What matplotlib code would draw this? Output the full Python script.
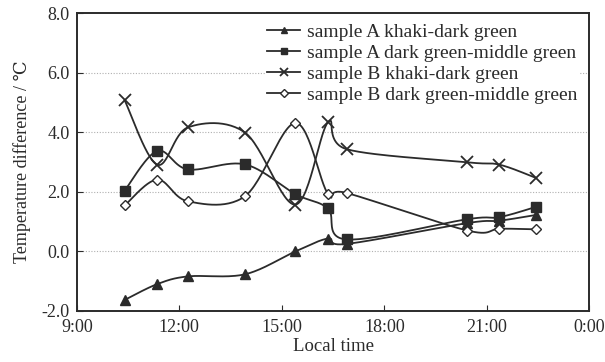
#!/usr/bin/env python3

import numpy as np
import matplotlib
matplotlib.use("Agg")
import matplotlib.pyplot as plt

# ----------- Data -----------
times = [10.40, 11.35, 12.25, 13.92, 15.40, 16.35, 16.90, 20.43, 21.37, 22.43]   # local time, hours

a_khaki_dark = [-1.63, -1.10, -0.84, -0.77, 0.00, 0.43, 0.25, 0.95, 1.03, 1.22]
a_dark_middle = [2.04, 3.37, 2.75, 2.92, 1.92, 1.44, 0.40, 1.08, 1.15, 1.49]
b_khaki_dark = [5.07, 2.91, 4.16, 3.99, 1.57, 4.33, 3.43, 2.99, 2.91, 2.47]
b_dark_middle = [1.54, 2.41, 1.68, 1.85, 4.31, 1.93, 1.96, 0.70, 0.76, 0.74]

labels = [
    "sample A khaki-dark green",
    "sample A dark green-middle green",
    "sample B khaki-dark green",
    "sample B dark green-middle green",
]

x_ticks = [9, 12, 15, 18, 21, 24]
x_tick_labels = ["9:00", "12:00", "15:00", "18:00", "21:00", "0:00"]
y_ticks = [-2, 0, 2, 4, 6, 8]


def smooth(xs, ys, n=30):
    """Spreadsheet-style smoothed line: cubic Bezier segments through the points."""
    p = np.column_stack([xs, ys]).astype(float)
    ext = np.vstack([p[0], p, p[-1]])
    out = []
    s = np.linspace(0, 1, n)[:, None]
    for i in range(len(p) - 1):
        p0, p1, p2, p3 = ext[i], ext[i + 1], ext[i + 2], ext[i + 3]
        b1 = p1 + (p2 - p0) / 6.0
        b2 = p2 - (p3 - p1) / 6.0
        seg = ((1 - s) ** 3) * p1 + 3 * ((1 - s) ** 2) * s * b1 + 3 * (1 - s) * s ** 2 * b2 + s ** 3 * p2
        out.append(seg if i == 0 else seg[1:])
    out = np.vstack(out)
    return out[:, 0], out[:, 1]


plt.rcParams["font.family"] = ["Liberation Serif", "DejaVu Serif"]
plt.rcParams["font.size"] = 13

fig = plt.figure(figsize=(6.05, 3.62), dpi=100)
ax = fig.add_axes([0.127, 0.141, 0.847, 0.823])

ink = "#2b2b2b"
series = [
    (a_khaki_dark, dict(marker="^", ms=6.5, mfc=ink, mec=ink)),
    (a_dark_middle, dict(marker="s", ms=6.5, mfc=ink, mec=ink)),
    (b_khaki_dark, dict(marker="x", ms=8, mew=1.3, mec=ink)),
    (b_dark_middle, dict(marker="D", ms=5.5, mfc="white", mec=ink, mew=1.0)),
]

for (vals, mstyle), lab in zip(series, labels):
    sx, sy = smooth(times, vals)
    ax.plot(sx, sy, color=ink, lw=1.3, zorder=3)
    ax.plot(times, vals, linestyle="none", zorder=4, **mstyle)
    # legend proxy
    ax.plot([], [], color=ink, lw=1.3, label=lab,
            **{**mstyle, "ms": mstyle["ms"] * 0.7})

ax.set_xlim(9, 24)
ax.set_ylim(-2, 8)
ax.set_xticks(x_ticks)
ax.set_xticklabels(x_tick_labels)
ax.set_yticks(y_ticks)
ax.set_yticklabels([f"{v:.1f}" for v in y_ticks])
ax.tick_params(direction="in", length=4, color=ink, labelcolor=ink)
ax.tick_params(axis="x", pad=6)
ax.tick_params(axis="y", pad=5)

for v in [0, 2, 4, 6]:
    ax.axhline(v, color="#b0b0b0", lw=0.8, linestyle=(0, (1, 1.5)), zorder=1)

for sp in ax.spines.values():
    sp.set_linewidth(1.4)
    sp.set_color(ink)

ax.set_xlabel("Local time", color=ink, labelpad=1, fontsize=13.5)
ax.set_ylabel("Temperature difference / \u2103", color=ink, labelpad=8)

leg = ax.legend(loc="upper left", bbox_to_anchor=(0.368, 0.972), frameon=True,
                fancybox=False, edgecolor="none", facecolor="white", framealpha=1,
                borderpad=0.1, borderaxespad=0, handlelength=1.7, handletextpad=0.36,
                labelspacing=0.17, fontsize=14)
leg.set_zorder(5)
for t in leg.get_texts():
    t.set_color(ink)

fig.savefig("out.png", dpi=100)
